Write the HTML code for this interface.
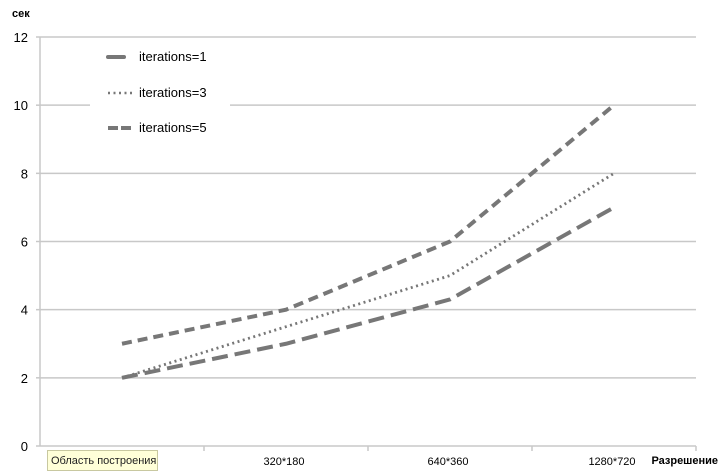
<!DOCTYPE html>
<html><head><meta charset="utf-8"><style>
html,body{margin:0;padding:0;background:#fff;width:721px;height:471px;overflow:hidden}
svg{display:block;font-family:"Liberation Sans",sans-serif}
</style></head><body>
<svg id="c" width="721" height="471">
<text x="12" y="17" font-size="11" font-weight="bold">сек</text>
<text x="718" y="464" font-size="11" font-weight="bold" text-anchor="end">Разрешение</text>
<g id="grid"></g><g id="series"></g>
<g>
<rect x="90" y="42" width="140" height="98" fill="#fff"/>
<line x1="108" y1="57" x2="124" y2="57" stroke="#777" stroke-width="4" stroke-linecap="round"/>
<text x="139" y="61" font-size="13">iterations=1</text>
<line x1="108" y1="93" x2="134" y2="93" stroke="#777" stroke-width="2.5" stroke-dasharray="2,3.5"/>
<text x="139" y="97" font-size="13">iterations=3</text>
<line x1="108" y1="128" x2="134" y2="128" stroke="#777" stroke-width="4" stroke-dasharray="10,3"/>
<text x="139" y="132" font-size="13">iterations=5</text>
</g>
<g>
<rect x="47.5" y="450.5" width="110" height="20" fill="#ffffd8" stroke="#c8c8a0"/>
<text x="51" y="464" font-size="11" fill="#222">Область построения</text>
</g>
</svg>
<script>
const categories=["160*90","320*180","640*360","1280*720"];
const yTicks=[0,2,4,6,8,10,12];
const it1=[3,4,6,10];
const it3=[2,3.5,5,8];
const it5=[2,3,4.3,7];
const NS="http://www.w3.org/2000/svg";
const L=40,R=696,T=37,B=446;
const band=(R-L)/categories.length;
const xs=i=>L+band*(i+0.5);
const ys=v=>B-(v/12)*(B-T);
function mk(t,a,p){const e=document.createElementNS(NS,t);for(const k in a)e.setAttribute(k,a[k]);p.appendChild(e);return e;}
const g=document.getElementById('grid');
yTicks.forEach(v=>{
 const l=mk('line',{x1:L,x2:R,y1:ys(v),y2:ys(v),stroke:'#c8c8c8','stroke-width':1.5},g);
 
 
 const t=mk('text',{x:28,y:ys(v)+5,'font-size':13,'text-anchor':'end'},g);t.textContent=v;
 
 
 mk('line',{x1:L-4,x2:L,y1:ys(v),y2:ys(v),stroke:'#c8c8c8','stroke-width':1.5},g);
});
mk('line',{x1:L,x2:L,y1:T,y2:B,stroke:'#c8c8c8','stroke-width':1.5},g);
categories.forEach((c,i)=>{
 mk('line',{x1:L+band*(i+1),x2:L+band*(i+1),y1:B,y2:B+5,stroke:'#c8c8c8','stroke-width':1.5},g);
 const t=mk('text',{x:xs(i)-2,y:465,'font-size':11,'text-anchor':'middle',fill:i==0?'#ddd':'#000'},g);t.textContent=c;
 
 
});
const s=document.getElementById('series');
[[it1,'10,6',4,'series-iterations-1'],[it3,'2,3.5',2.8,'series-iterations-3'],[it5,'16,7',4,'series-iterations-5']].forEach(([d,da,w,n])=>{
 const p=mk('polyline',{points:d.map((v,i)=>xs(i)+','+ys(v)).join(' '),fill:'none',stroke:'#777','stroke-width':w,'stroke-dasharray':da},s);
 
 
});
</script>
</body></html>
